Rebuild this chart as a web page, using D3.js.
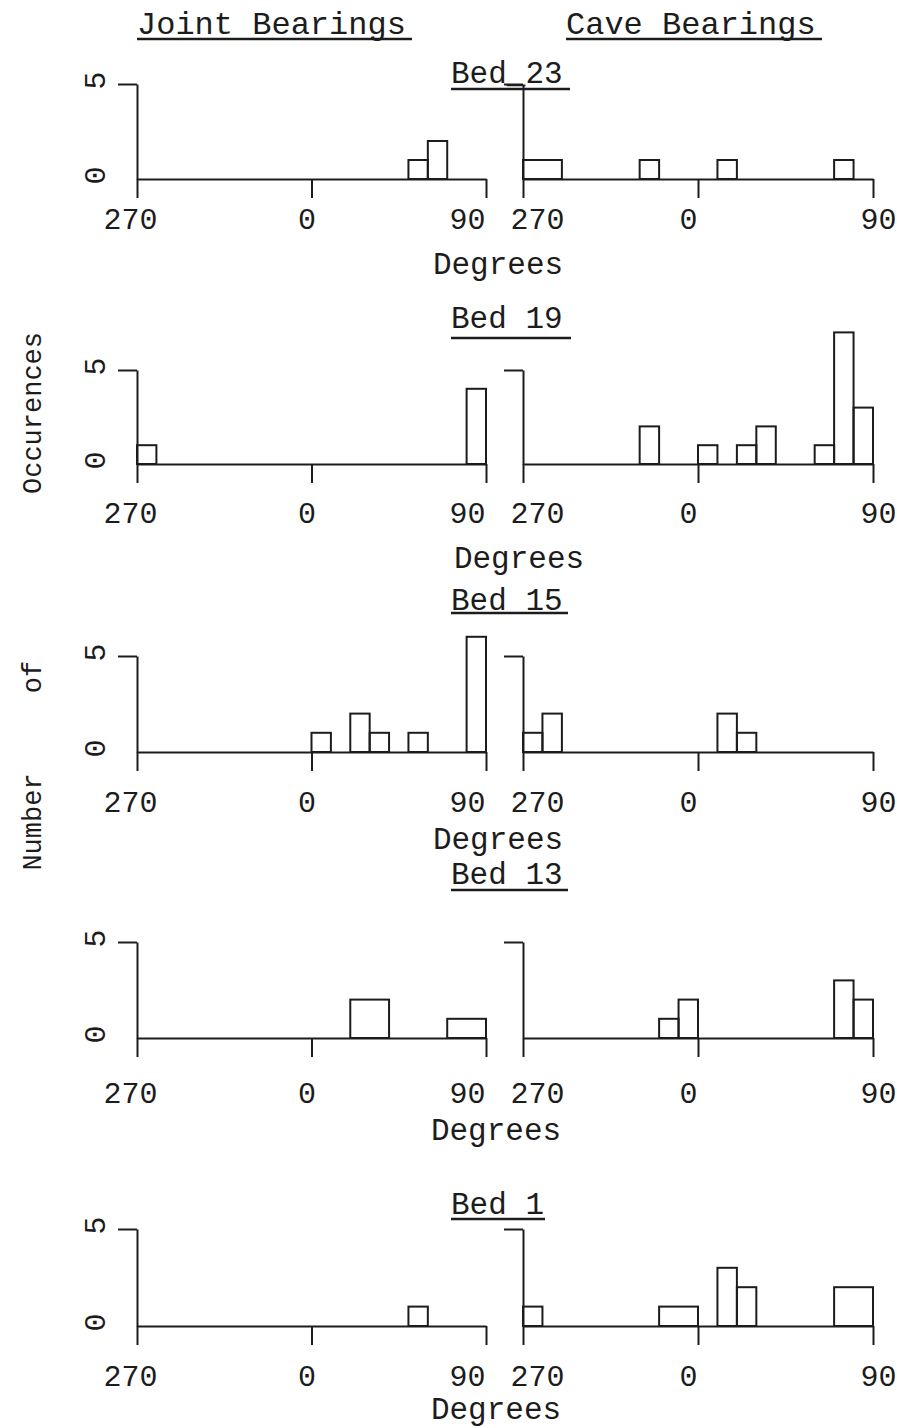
<!DOCTYPE html>
<html>
<head>
<meta charset="utf-8">
<script src="https://cdn.jsdelivr.net/npm/d3@7"></script>
<style>
  html, body { margin: 0; padding: 0; background: #fff; }
  svg { display: block; }
  text { font-family: "Liberation Mono", "DejaVu Sans Mono", monospace; fill: #1c1c1c; }
</style>
</head>
<body>
<svg id="chart" width="897" height="1428"></svg>
<script>
// ---------------- DATA ----------------
const beds = ["Bed_23", "Bed 19", "Bed 15", "Bed 13", "Bed 1"];
const columns = ["Joint Bearings", "Cave Bearings"];
// 10-degree bins, starting bearing of each bin (270 == -90 ... 80)
const binStarts = [-90, -80, -70, -60, -50, -40, -30, -20, -10, 0, 10, 20, 30, 40, 50, 60, 70, 80];
const xTickValues = [-90, 0, 90];
const xTickLabels = ["270", "0", "90"];
const yTickValues = [0, 5];
const yTickLabels = ["0", "5"];
const yLabelWords = ["Number", "of", "Occurences"];
const xAxisTitle = "Degrees";

// counts per bin (joint bearings)
const jointBed23 = [0,0,0,0,0,0,0,0,0,0,0,0,0,0,1,2,0,0];
const jointBed19 = [1,0,0,0,0,0,0,0,0,0,0,0,0,0,0,0,0,4];
const jointBed15 = [0,0,0,0,0,0,0,0,0,1,0,2,1,0,1,0,0,6];
const jointBed13 = [0,0,0,0,0,0,0,0,0,0,0,2,2,0,0,0,1,1];
const jointBed1  = [0,0,0,0,0,0,0,0,0,0,0,0,0,0,1,0,0,0];
// counts per bin (cave bearings)
const caveBed23 = [1,1,0,0,0,0,1,0,0,0,1,0,0,0,0,0,1,0];
const caveBed19 = [0,0,0,0,0,0,2,0,0,1,0,1,2,0,0,1,7,3];
const caveBed15 = [1,2,0,0,0,0,0,0,0,0,2,1,0,0,0,0,0,0];
const caveBed13 = [0,0,0,0,0,0,0,1,2,0,0,0,0,0,0,0,3,2];
const caveBed1  = [1,0,0,0,0,0,0,1,1,0,3,2,0,0,0,0,2,2];

const jointSeries = [jointBed23, jointBed19, jointBed15, jointBed13, jointBed1];
const caveSeries  = [caveBed23, caveBed19, caveBed15, caveBed13, caveBed1];

// ---------------- LAYOUT ----------------
const rowLayout = [
  { top: 84,  base: 179,  tickDy: 39, degY: 263,  degX: 498, titleY: 72,   ulY: 89,   ulEnd: 570 },
  { top: 370, base: 464,  tickDy: 48, degY: 557,  degX: 519, titleY: 317,  ulY: 338,  ulEnd: 571 },
  { top: 656, base: 752,  tickDy: 49, degY: 838,  degX: 498, titleY: 599,  ulY: 613,  ulEnd: 568 },
  { top: 942, base: 1038, tickDy: 54, degY: 1129, degX: 496, titleY: 873,  ulY: 890,  ulEnd: 568 },
  { top: 1229, base: 1326, tickDy: 49, degY: 1408, degX: 496, titleY: 1203, ulY: 1219, ulEnd: 545 }
];
const panelX = [[137, 486], [523, 873]];
const tickLabelDx = [[-7, -5, -19], [14, -10, 5]];
const titleX = 451;
const lw = 2;
const ink = "#1c1c1c";

const svg = d3.select("#chart");

// Column headers
const headers = [
  { x: 137, ulEnd: 412 },
  { x: 566, ulEnd: 822 }
];
columns.forEach((c, i) => {
  svg.append("text").attr("x", headers[i].x).attr("y", 22).attr("dy", "0.36em")
    .attr("font-size", 32).text(c);
  svg.append("line").attr("x1", headers[i].x).attr("x2", headers[i].ulEnd)
    .attr("y1", 39).attr("y2", 39).attr("stroke", ink).attr("stroke-width", 2.5);
});

// Vertical y-axis title words
const wordY = [822, 677, 413];
yLabelWords.forEach((w, i) => {
  svg.append("text")
    .attr("transform", `translate(31,${wordY[i]}) rotate(-90)`)
    .attr("text-anchor", "middle").attr("dy", "0.36em")
    .attr("font-size", 27).text(w);
});

// merge consecutive bins of equal non-zero count into one box
function mergeBins(counts) {
  const out = [];
  counts.forEach((n, i) => {
    if (n <= 0) return;
    const last = out[out.length - 1];
    if (last && last.n === n && last.e === binStarts[i]) {
      last.e = binStarts[i] + 10;
    } else {
      out.push({ s: binStarts[i], e: binStarts[i] + 10, n });
    }
  });
  return out;
}

beds.forEach((bed, r) => {
  const L = rowLayout[r];
  const y = d3.scaleLinear().domain([0, 5]).range([L.base, L.top]);

  // bed title + underline
  svg.append("text").attr("x", titleX).attr("y", L.titleY).attr("dy", "0.36em")
    .attr("font-size", 31).text(bed);
  svg.append("line").attr("x1", titleX).attr("x2", L.ulEnd)
    .attr("y1", L.ulY).attr("y2", L.ulY).attr("stroke", ink).attr("stroke-width", 2.5);

  // Degrees title
  svg.append("text").attr("x", L.degX).attr("y", L.degY).attr("dy", "0.36em")
    .attr("text-anchor", "middle").attr("font-size", 31).text(xAxisTitle);

  [jointSeries[r], caveSeries[r]].forEach((counts, p) => {
    const x = d3.scaleLinear().domain([-90, 90]).range(panelX[p]);
    const g = svg.append("g");

    // bars
    const boxes = mergeBins(counts);
    g.selectAll("rect.bar").data(boxes).join("rect")
      .attr("class", "bar")
      .attr("x", d => x(d.s))
      .attr("width", d => x(d.e) - x(d.s))
      .attr("y", d => y(d.n))
      .attr("height", d => y(0) - y(d.n))
      .attr("fill", "none").attr("stroke", ink).attr("stroke-width", lw);

    // x axis
    const xa = g.append("g").attr("transform", `translate(0,${L.base})`)
      .call(d3.axisBottom(x).tickValues(xTickValues).tickSize(19).tickSizeOuter(0)
        .tickFormat((d, i) => xTickLabels[i]));
    xa.attr("font-family", null);
    xa.select(".domain").attr("stroke", ink).attr("stroke-width", lw);
    xa.selectAll(".tick line").attr("stroke", ink).attr("stroke-width", lw);
    xa.selectAll(".tick text")
      .attr("y", L.tickDy).attr("dy", "0.36em")
      .attr("dx", (d, i) => tickLabelDx[p][i])
      .attr("font-size", 30).attr("fill", ink);

    // y axis
    const ya = g.append("g").attr("transform", `translate(${panelX[p][0]},0)`)
      .call(d3.axisLeft(y).tickValues(yTickValues).tickSize(19).tickSizeOuter(0)
        .tickFormat((d, i) => yTickLabels[i]));
    ya.attr("font-family", null);
    ya.select(".domain").attr("stroke", ink).attr("stroke-width", lw);
    ya.selectAll(".tick line").attr("stroke", ink).attr("stroke-width", lw)
      .attr("x2", d => d === 0 ? 0 : -19);
    if (p === 0) {
      ya.selectAll(".tick text")
        .attr("x", null).attr("dy", null)
        .attr("transform", "translate(-40,-4) rotate(-90)")
        .attr("text-anchor", "middle").attr("dominant-baseline", "central")
        .attr("font-size", 30).attr("fill", ink);
    } else {
      ya.selectAll(".tick text").remove();
    }
  });
});
</script>
</body>
</html>
